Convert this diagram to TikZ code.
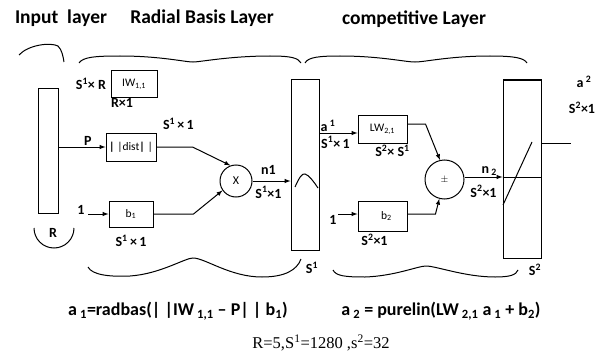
\documentclass[tikz,border=0pt]{standalone}
\usepackage{fontspec}
\setmainfont{Carlito}
\newfontfamily\serifnum{Liberation Serif}
\usetikzlibrary{positioning}

\tikzset{
  blk/.style={draw, line width=1pt, inner sep=0pt, font=\fontsize{11.5}{13}\selectfont},
  bar/.style={draw, line width=1pt, inner sep=0pt},
  circ/.style={draw, circle, line width=1pt, inner sep=0pt},
  lbl/.style={inner sep=1pt, font=\bfseries\fontsize{14}{16}\selectfont},
  head/.style={inner sep=0pt, font=\bfseries\fontsize{19.5}{22}\selectfont},
  eqn/.style={inner sep=0pt, font=\bfseries\fontsize{18}{20}\selectfont},
}

\begin{document}
\begin{tikzpicture}[x=1pt, y=-1pt, >=latex, line width=1pt]
    \useasboundingbox (0,0) rectangle (605,353);

    % Titles
    \node[head] (tin) at (61,18) {Input\ \ layer};
    \node[head] (trb) at (202,18) {Radial Basis Layer};
    \node[head] (tcl) at (414,19) {competitive Layer};

    % Layer bars
    \node[bar, minimum width=20pt, minimum height=125pt] (inp) at (48.5,150.5) {};
    \node[bar, minimum width=28pt, minimum height=170pt] (l1) at (305,165) {};
    \node[bar, minimum width=38pt, minimum height=178pt] (l2) at (522,169) {};

    % Weight and bias boxes
    \node[blk, minimum width=46pt, minimum height=26pt] (iw) at (134,84) {IW\textsubscript{1,1}};
    \node[blk, minimum width=50pt, minimum height=28pt] (dist) at (131,147) {\textbf{|} |dist\textbf{|} |};
    \node[blk, minimum width=44pt, minimum height=26pt] (b1) at (131,214) {b\textsubscript{1}};
    \node[blk, minimum width=49pt, minimum height=28pt] (lw) at (382.5,129) {LW\textsubscript{2,1}};
    \node[blk, minimum width=49pt, minimum height=30pt] (b2) at (382.5,216) {\hspace{8pt}b\textsubscript{2}};

    % Product and sum
    \node[circ, minimum size=32pt, font=\fontsize{12}{13}\selectfont] (mul) at (236,181) {X};
    \node[circ, minimum size=39pt, font=\fontsize{10}{11}\selectfont] (sum) at (444.5,179.5) {$\pm$};

    % Labels
    \node[lbl, left=3pt of iw] (siw) {S\textsuperscript{1}× R};
    \node[lbl, anchor=north west, inner sep=0pt] (riw) at (iw.south west) {R×1};
    \node[lbl, above right=1pt and 5pt of dist.north east] (sdist) {S\textsuperscript{1}\,×\,1};
    \node[lbl, below=6pt of b1] (sb1) {S\textsuperscript{1}\,×\,1};
    \node[lbl, below=0pt of lw, xshift=10pt] (slw) {S\textsuperscript{2}×\ S\textsuperscript{1}};
    \node[lbl, below=1pt of b2, xshift=-8pt] (sb2) {S\textsuperscript{2}×1};
    \node[lbl] (sr) at (53,233) {R};
    \node[lbl] (a2) at (584,82) {a\,\textsuperscript{2}};
    \node[lbl] (sa2) at (582,108) {S\textsuperscript{2}×1};
    \node[lbl] (s1) at (312,268) {S\textsuperscript{1}};
    \node[lbl] (s2) at (535,270) {S\textsuperscript{2}};

    % Input side
    \draw[->] (inp.east |- dist) -- node[lbl, above=0pt, pos=0.62] {P} (dist);
    \coordinate (one1) at (88,214);
    \node[lbl, left=2pt of one1, yshift=4pt] (lone1) {1};
    \draw[->] (one1) -- (b1);
    \draw[->] (dist.east) -- ++(36,0) -- (mul.110);
    \draw[->] (b1.east) -- ++(40,0) -- (mul.215);
    \draw[->] (mul.east) -- node[lbl, above=5pt, pos=0.42] {n1}
        node[lbl, below=4pt, pos=0.42] {S\textsuperscript{1}×1} (l1.west |- mul);

    % Competitive side
    \draw[->] (l1.east |- 0,133) -- node[lbl, above=0pt, pos=0.22] {a\,\textsuperscript{1}}
        node[lbl, below=2pt, pos=0.42] {S\textsuperscript{1}×\,1} (lw.west |- 0,133);
    \coordinate (one2) at (338,214);
    \node[lbl, below left=0pt and 0pt of one2] (lone2) {1};
    \draw[->] (one2) -- (b2.west |- one2);
    \draw[->] (lw.east |- 0,124) -- ++(18,0) -- (sum.103);
    \draw[->] (b2.east |- one2) -- ++(28,0) -- (sum.255);
    \draw[->] (sum.east |- 0,177) -- node[lbl, above=0pt, pos=0.65] {n\,\textsubscript{2}}
        node[lbl, below=7pt, pos=0.5] {S\textsuperscript{2}×1} (l2.west |- 0,177);
    \draw (l2.west |- 0,177) -- (l2.east |- 0,177);
    \coordinate (out) at (571,143);
    \draw (l2.east |- out) -- (out);

    % Transfer functions
    \draw (295,187) .. controls (299,178) and (302,173) .. (305,174) .. controls (309,175) and (314,182) .. (318,188);
    \draw (503,205) -- (532,142);

    % Braces
    \draw (19,55) .. controls (28,45) and (50,42) .. (58,46) .. controls (62,50) and (63,56) .. (64,62);
    \draw (34,228) arc[start angle=180, end angle=360, radius=20pt];
    \draw (79,63) .. controls (83,57) and (95,56) .. (120,56) .. controls (160,56) and (185,62) .. (193,62)
        .. controls (200,62) and (230,56) .. (270,56) .. controls (292,56) and (298,58) .. (301,63);
    \draw (305,63) .. controls (308,57) and (320,56) .. (340,56) .. controls (380,56) and (405,62) .. (415,62)
        .. controls (425,62) and (450,56) .. (490,56) .. controls (515,56) and (524,58) .. (527,63);
    \draw (88,267) .. controls (92,275) and (110,277) .. (130,276) .. controls (160,274) and (185,258) .. (193,258)
        .. controls (205,258) and (230,277) .. (262,277) .. controls (285,277) and (297,270) .. (301,259);
    \draw (333,270) .. controls (336,276) and (345,277) .. (365,277) .. controls (395,276) and (418,266) .. (426,266)
        .. controls (436,266) and (465,277) .. (495,277) .. controls (510,277) and (516,275) .. (518,270);

    % Equations
    \node[eqn] (eq1) at (178,311)
        {a\,\textsubscript{1}=radbas(| |IW\,\textsubscript{1,1} -- P| | b\textsubscript{1})};
    \node[eqn] (eq2) at (441,311)
        {a\,\textsubscript{2} = purelin(LW\,\textsubscript{2,1} a\,\textsubscript{1} + b\textsubscript{2})};
    \node[inner sep=0pt, font=\serifnum\fontsize{16.5}{18}\selectfont] (par) at (321,343)
        {R=5,S\textsuperscript{1}=1280 ,s\textsuperscript{2}=32};
\end{tikzpicture}
\end{document}
